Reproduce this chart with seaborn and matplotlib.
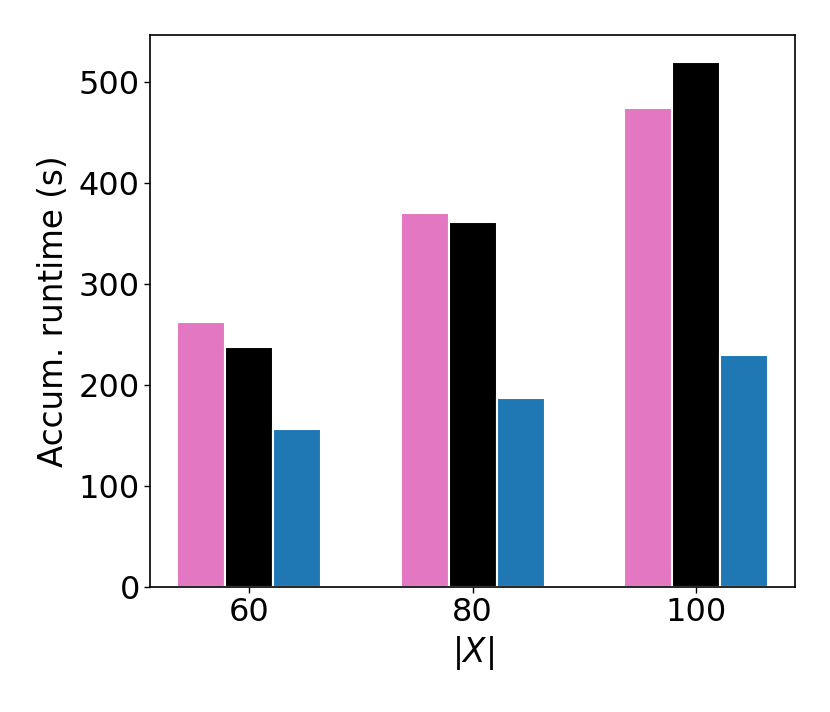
import pandas as pd
import seaborn as sns
import matplotlib.pyplot as plt

# values
sizes = ["60", "80", "100"]
methods = ["A", "B", "C"]
pink_vals = [262, 370, 474]
black_vals = [238, 361, 520]
blue_vals = [156, 187, 230]
colors = ["#e377c2", "#000000", "#1f77b4"]

df = pd.DataFrame({
    "size": sizes * 3,
    "method": [m for m in methods for _ in sizes],
    "runtime": pink_vals + black_vals + blue_vals,
})

sns.set_style("ticks")
plt.rcParams["font.family"] = ["DejaVu Sans"]
plt.rcParams["text.color"] = "black"
plt.rcParams["axes.labelcolor"] = "black"
plt.rcParams["xtick.color"] = "black"
plt.rcParams["ytick.color"] = "black"

fig = plt.figure(figsize=(8.3, 7.12), dpi=100)
ax = fig.add_axes([0.181, 0.1756, 0.777, 0.7753])

sns.barplot(data=df, x="size", y="runtime", hue="method", order=sizes,
            hue_order=methods, palette=colors, width=0.645, gap=0.0,
            edgecolor="white", linewidth=1.5, saturation=1, legend=False, ax=ax)

ax.set_xlim(-0.444, 2.444)
ax.set_ylim(0, 546.5)
ax.set_yticks([0, 100, 200, 300, 400, 500])
ax.set_xlabel(r"$|X|$", fontsize=23.5)
ax.set_ylabel("Accum. runtime (s)", fontsize=23.5, labelpad=6)
ax.tick_params(labelsize=23, length=4, width=1, colors="black")
for s in ax.spines.values():
    s.set_color("black")
    s.set_linewidth(1.2)

fig.savefig("out.png", dpi=100)
